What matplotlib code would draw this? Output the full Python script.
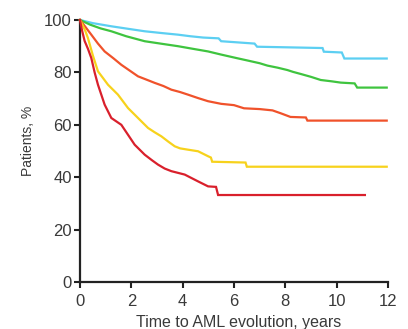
import matplotlib
matplotlib.use("Agg")
from matplotlib import pyplot as plt

# curves (time in years, % of patients);
# a repeated time value is a vertical step
t_cyan = [0, 0.5, 1.22, 1.9, 2.52, 3.2, 3.82, 4.3, 4.8, 5.4, 5.5, 6.8, 6.9, 9.45, 9.5, 10.2, 10.3, 11.95]
v_cyan = [100, 98.8, 97.6, 96.6, 95.7, 95.0, 94.4, 93.8, 93.3, 93.0, 91.9, 91.0, 89.8, 89.3, 87.9, 87.6, 85.3, 85.3]

t_green = [0, 0.4, 0.8, 1.22, 1.8, 2.52, 3.2, 3.82, 4.4, 4.99, 5.5, 6.13, 6.5, 7.0, 7.3, 7.7, 8.08,
           8.3, 8.6, 9.0, 9.38, 9.8, 10.16, 10.7, 10.8, 11.95]
v_green = [100, 98.2, 96.8, 95.7, 93.8, 91.9, 90.9, 90.0, 89.0, 88.0, 86.8, 85.4, 84.6, 83.5, 82.6, 81.8, 80.9,
           80.2, 79.4, 78.3, 77.1, 76.6, 76.1, 75.8, 74.2, 74.2]

t_orange = [0, 0.2, 0.44, 0.7, 0.96, 1.3, 1.61, 1.95, 2.26, 2.6, 2.91, 3.25, 3.56, 3.9, 4.21, 4.6, 4.99,
            5.5, 6.0, 6.39, 7.0, 7.5, 7.82, 8.2, 8.8, 8.86, 11.95]
v_orange = [100, 97.5, 94.4, 91.0, 88.0, 85.4, 82.9, 80.6, 78.5, 77.2, 76.0, 74.8, 73.4, 72.5, 71.5, 70.2, 69.0,
            68.0, 67.5, 66.3, 66.0, 65.5, 64.4, 63.0, 62.8, 61.6, 61.6]

t_yellow = [0, 0.1, 0.2, 0.31, 0.5, 0.7, 0.9, 1.09, 1.48, 1.87, 2.26, 2.65, 2.9, 3.17, 3.45, 3.69, 3.9,
            4.21, 4.6, 4.99, 5.1, 5.15, 6.45, 6.5, 11.95]
v_yellow = [100, 98, 96, 93.1, 86.5, 80.4, 77.8, 75.3, 71.5, 66.4, 62.6, 58.8, 57.2, 55.6, 53.5, 51.8, 51.0,
            50.5, 49.9, 48.0, 47.5, 45.9, 45.6, 44.0, 44.0]

t_red = [0, 0.08, 0.18, 0.31, 0.44, 0.57, 0.7, 0.96, 1.22, 1.61, 1.87, 2.13, 2.52, 2.8, 3.04, 3.3, 3.56,
         4.08, 4.6, 4.99, 5.3, 5.38, 11.1]
v_red = [100, 96, 92, 89, 85.5, 80, 75.3, 67.7, 62.6, 60.0, 56.2, 52.4, 48.6, 46.5, 44.8, 43.3, 42.3,
         41.0, 38.4, 36.5, 36.3, 33.2, 33.2]

xticks = [0, 2, 4, 6, 8, 10, 12]
yticks = [0, 20, 40, 60, 80, 100]

plt.rcParams['font.family'] = ['Liberation Sans', 'DejaVu Sans']
txt = '#3a3a3a'

fig = plt.figure(figsize=(4.08, 3.29), dpi=100)
ax = fig.add_axes([80 / 408, 47 / 329, 308 / 408, 262 / 329])

series = [
    (t_cyan, v_cyan, '#5ccff2'),
    (t_green, v_green, '#3fc43f'),
    (t_orange, v_orange, '#f0522b'),
    (t_yellow, v_yellow, '#f7d21c'),
    (t_red, v_red, '#d9202c'),
]
for t, v, c in series:
    ax.plot(t, v, color=c, lw=1.6, clip_on=False, zorder=3, solid_joinstyle='miter')

ax.set_xlim(0, 12)
ax.set_ylim(0, 100)
ax.set_xticks(xticks)
ax.set_yticks(yticks)
ax.spines['top'].set_visible(False)
ax.spines['right'].set_visible(False)
for s in ['left', 'bottom']:
    ax.spines[s].set_linewidth(1.6)
    ax.spines[s].set_color('#222222')
ax.tick_params(direction='out', length=4, width=1.5, color='#222222',
               labelsize=12, labelcolor=txt, pad=2)
ax.tick_params(axis='x', pad=5)
ax.set_ylabel('Patients, %', fontsize=10, color=txt)
ax.yaxis.set_label_coords(-52 / 308, (282 - 141) / 262)
ax.set_xlabel('Time to AML evolution, years', fontsize=11.5, color=txt)
ax.xaxis.set_label_coords((239 - 80) / 308, -(322 - 282) / 262)
ax.xaxis.label.set_va('center')
ax.yaxis.label.set_va('center')

fig.savefig('out.png', dpi=100)
